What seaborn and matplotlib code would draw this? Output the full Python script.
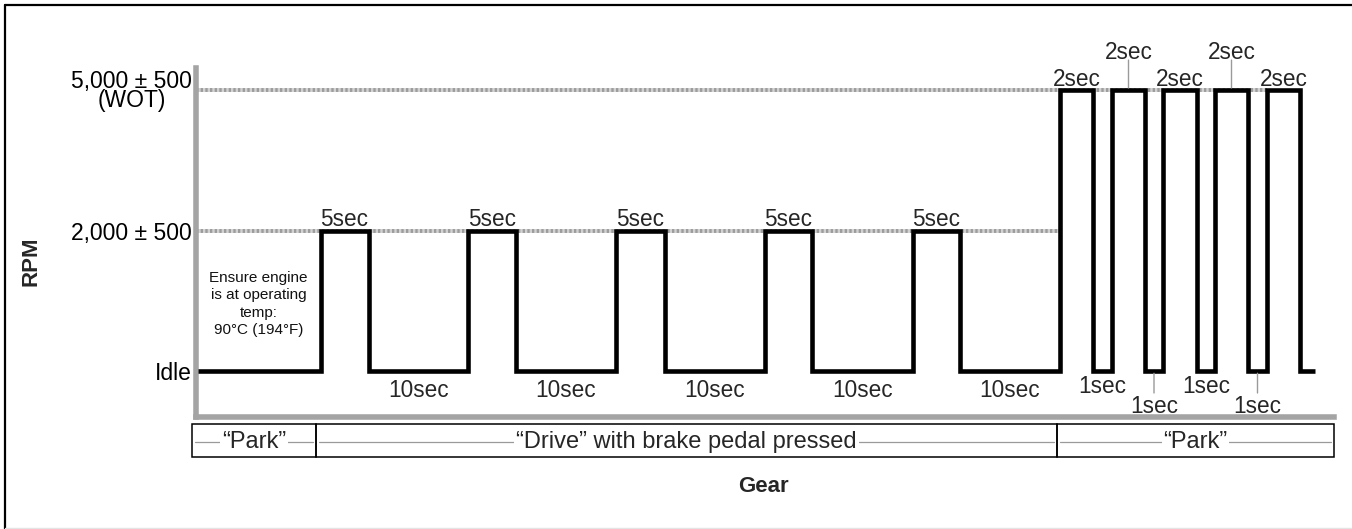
import matplotlib
matplotlib.use('Agg')
import matplotlib.pyplot as plt
from matplotlib.lines import Line2D
from matplotlib.patches import Rectangle
import numpy as np
import pandas as pd
import seaborn as sns

# RPM levels (plotted on an ordinal scale: Idle=0, 2000=1, 5000=2)
rpm_labels = ['Idle', '2,000 \u00b1 500', '5,000 \u00b1 500\n(WOT)']

# step edges (drawing units, not to scale on the right)
step_edges = [0.25, 12.5, 17.3, 27.25, 32.05, 42.05, 46.95, 56.95, 61.65,
              71.75, 76.45, 86.45, 89.75, 91.65, 94.95, 96.75, 100.15,
              101.95, 105.25, 107.15, 110.45, 111.95]
step_levels = [0, 1, 0, 1, 0, 1, 0, 1, 0, 1, 0,
               2, 0, 2, 0, 2, 0, 2, 0, 2, 0]
step_notes = [None, '5sec', '10sec', '5sec', '10sec', '5sec', '10sec',
              '5sec', '10sec', '5sec', '10sec',
              '2sec', '1sec', '2sec', '1sec', '2sec', '1sec', '2sec',
              '1sec', '2sec', None]
staggered = [13, 14, 17, 18]

# dotted reference lines: level and where they stop
ref_levels = [1, 2]
ref_ends = [86.45, 107.15]

# gear row
gear_labels = ['\u201cPark\u201d', '\u201cDrive\u201d with brake pedal pressed',
               '\u201cPark\u201d']
gear_bounds = [-0.35, 12.05, 86.15, 113.85]

note_text = 'Ensure engine\nis at operating\ntemp:\n90\u00b0C (194\u00b0F)'

sns.set_style('white')
plt.rcParams['font.family'] = ['Liberation Sans', 'DejaVu Sans']

W, H = 1352, 529
fig = plt.figure(figsize=(W / 100, H / 100), dpi=100)

ax = fig.add_axes([195.5 / W, 1 - 417 / H, (1334 - 195.5) / W, (417 - 68) / H])
ax.set_xlim(0, 113.85)
ax.set_ylim(-0.327, 2.157)

for lev, end in zip(ref_levels, ref_ends):
    ax.plot([0, end], [lev, lev], color='#d2d2d2', lw=2.8, zorder=1,
            solid_capstyle='butt')
    ax.plot([0, end], [lev, lev], color='#9c9c9c', lw=2.8, zorder=1.1,
            linestyle=(0, (0.6, 0.6)))

df = pd.DataFrame({'t': step_edges, 'rpm': step_levels + [step_levels[-1]]})
sns.lineplot(data=df, x='t', y='rpm', drawstyle='steps-post', estimator=None,
             color='black', lw=3.3, ax=ax, zorder=3,
             solid_joinstyle='miter', solid_capstyle='butt')

# duration notes
for i, txt in enumerate(step_notes):
    if txt is None:
        continue
    mid = (step_edges[i] + step_edges[i + 1]) / 2
    lev = step_levels[i]
    if lev > 0:
        dy = 22.3 if i in staggered else 3.2
        if i in staggered:
            ax.annotate('', xy=(mid, lev), xytext=(0, 21.6),
                        textcoords='offset points', annotation_clip=False,
                        arrowprops=dict(arrowstyle='-', color='#9a9a9a',
                                        lw=1.0, shrinkA=0, shrinkB=1.6))
    else:
        if txt == '10sec':
            dy = -18.5
        else:
            dy = -30.2 if i in staggered else -15.8
        if i in staggered:
            ax.annotate('', xy=(mid, lev), xytext=(0, -15.8),
                        textcoords='offset points', annotation_clip=False,
                        arrowprops=dict(arrowstyle='-', color='#9a9a9a',
                                        lw=1.0, shrinkA=0, shrinkB=1.6))
    ax.annotate(txt, xy=(mid, lev), xytext=(0, dy), textcoords='offset points',
                ha='center', va='baseline', fontsize=16.3,
                annotation_clip=False)

ax.text(6.3, 0.477, note_text, ha='center', va='center', fontsize=11,
        linespacing=1.28, color='#111111')

ax.set_yticks([0, 1, 2])
ax.set_yticklabels(rpm_labels)
for lab in ax.get_yticklabels():
    lab.set_multialignment('center')
    lab.set_linespacing(0.82)
ax.tick_params(axis='y', length=0, pad=2.5, labelsize=16.5, colors='black')
ax.set_xticks([])
ax.set_xlabel('')
ax.set_ylabel('')
for side in ['top', 'right']:
    ax.spines[side].set_visible(False)
for side in ['left', 'bottom']:
    ax.spines[side].set_color('#a4a4a4')
    ax.spines[side].set_linewidth(4.0)
    ax.spines[side].set_capstyle('projecting')

# gear table
tx = fig.add_axes([195.5 / W, 1 - 457 / H, (1334 - 195.5) / W, 33 / H])
tx.set_xlim(0, 113.85)
tx.set_ylim(0, 1)
tx.axis('off')
for k, lab in enumerate(gear_labels):
    x0, x1 = gear_bounds[k], gear_bounds[k + 1]
    tx.add_patch(Rectangle((x0, 0), x1 - x0, 1, fc='none', ec='black',
                           lw=1.1, clip_on=False))
    tx.plot([x0 + 0.3, x1 - 0.3], [0.46, 0.46], color='#9a9a9a', lw=0.9,
            clip_on=False)
    tx.text((x0 + x1) / 2, 0.46, lab, ha='center', va='center', fontsize=17,
            bbox=dict(boxstyle='square,pad=0.08', fc='white', ec='none'))

fig.text(31 / W, 1 - 261 / H, 'RPM', rotation=90, ha='center', va='center',
         fontsize=16, fontweight='bold')
fig.text(763 / W, 1 - 486 / H, 'Gear', ha='center', va='center',
         fontsize=16, fontweight='bold')

# outer frame
fig.add_artist(Line2D([5 / W, 5 / W], [0, 1 - 5 / H], color='black', lw=1.6))
fig.add_artist(Line2D([5 / W, 1], [1 - 5 / H, 1 - 5 / H], color='black', lw=1.6))
fig.add_artist(Line2D([5 / W, 1], [1.5 / H, 1.5 / H], color='#e4e4e4', lw=1.0))

fig.savefig('out.png', dpi=100, facecolor='white')
